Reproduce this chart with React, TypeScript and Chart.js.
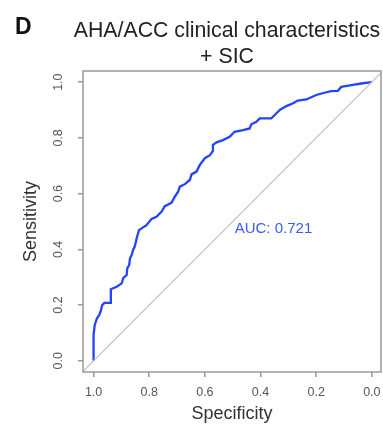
import React, { useEffect, useRef } from "react";
import { Chart, registerables } from "chart.js";

Chart.register(...registerables);

// ROC curve (specificity, sensitivity)
const specificity = [
  1.0, 1.0, 0.996, 0.988, 0.98, 0.975, 0.969, 0.961, 0.938, 0.938, 0.917, 0.899, 0.893, 0.881, 0.879, 0.872,
  0.869, 0.863, 0.858, 0.852, 0.845, 0.837, 0.822, 0.81, 0.792, 0.774, 0.756, 0.744, 0.72, 0.708, 0.696, 0.69,
  0.672, 0.654, 0.648, 0.63, 0.618, 0.6, 0.582, 0.571, 0.571, 0.558, 0.535, 0.511, 0.493, 0.463, 0.439, 0.433,
  0.415, 0.403, 0.361, 0.349, 0.331, 0.307, 0.283, 0.266, 0.235, 0.2, 0.17, 0.146, 0.122, 0.11, 0.068, 0.032, 0.0,
];
const sensitivity = [
  0.0, 0.093, 0.128, 0.152, 0.164, 0.176, 0.2, 0.208, 0.208, 0.257, 0.266, 0.278, 0.298, 0.308, 0.332, 0.344,
  0.368, 0.38, 0.398, 0.41, 0.44, 0.469, 0.479, 0.487, 0.509, 0.517, 0.535, 0.555, 0.567, 0.589, 0.607, 0.625,
  0.634, 0.649, 0.669, 0.679, 0.703, 0.727, 0.738, 0.753, 0.775, 0.784, 0.792, 0.804, 0.822, 0.828, 0.834, 0.849,
  0.858, 0.87, 0.87, 0.882, 0.9, 0.914, 0.924, 0.934, 0.938, 0.954, 0.962, 0.968, 0.969, 0.983, 0.99, 0.996, 1.0,
];
const diagonalX = [1.04, -0.04];
const diagonalY = [-0.04, 1.04];
const tickValues = [0, 0.2, 0.4, 0.6, 0.8, 1.0];
const tickLabels = ["0.0", "0.2", "0.4", "0.6", "0.8", "1.0"];
const titleLines = ["AHA/ACC clinical characteristics", "+ SIC"];
const panelLabel = "D";
const aucLabel = "AUC: 0.721";
const aucPosition = [0.5, 0.5];
const xTitle = "Specificity";
const yTitle = "Sensitivity";

const FAMILY = '"Liberation Sans", Arial, Helvetica, sans-serif';

const labelFor = (v: number) => {
  const i = tickValues.findIndex((t) => Math.abs(t - v) < 1e-9);
  return i >= 0 ? tickLabels[i] : "";
};

const annotPlugin = {
  id: "annot",
  afterDraw(chart: any) {
    const { ctx, chartArea: a, scales } = chart;
    ctx.save();
    // frame
    ctx.strokeStyle = "#9a9a9a";
    ctx.lineWidth = 1.5;
    ctx.strokeRect(a.left, a.top, a.right - a.left, a.bottom - a.top);

    // rotated y tick labels
    ctx.fillStyle = "#555";
    ctx.font = `12.5px ${FAMILY}`;
    ctx.textAlign = "center";
    ctx.textBaseline = "middle";
    tickValues.forEach((v, i) => {
      const y = scales.y.getPixelForValue(v);
      ctx.save();
      ctx.translate(59, y);
      ctx.rotate(-Math.PI / 2);
      ctx.fillText(tickLabels[i], 0, 0);
      ctx.restore();
    });

    // title
    ctx.fillStyle = "#222";
    ctx.font = `21.3px ${FAMILY}`;
    ctx.textAlign = "center";
    ctx.textBaseline = "alphabetic";
    ctx.fillText(titleLines[0], 227, 37);
    ctx.fillText(titleLines[1], 227, 63);

    // panel label
    ctx.fillStyle = "#111";
    ctx.font = `bold 23px ${FAMILY}`;
    ctx.textAlign = "left";
    ctx.fillText(panelLabel, 15, 33.5);

    // AUC
    ctx.fillStyle = "#3a5aff";
    ctx.font = `15px ${FAMILY}`;
    ctx.textAlign = "left";
    ctx.textBaseline = "middle";
    ctx.fillText(
      aucLabel,
      scales.x.getPixelForValue(aucPosition[0]) + 2,
      scales.y.getPixelForValue(aucPosition[1]) + 7.5
    );
    ctx.restore();
  },
};

export default function App() {
  const ref = useRef<HTMLCanvasElement | null>(null);

  useEffect(() => {
    document.body.style.margin = "0";
    if (!ref.current) return;
    const chart = new Chart(ref.current, {
      type: "scatter",
      data: {
        datasets: [
          {
            data: diagonalX.map((x, i) => ({ x, y: diagonalY[i] })),
            showLine: true,
            borderColor: "#c4c4c4",
            borderWidth: 1.2,
            pointRadius: 0,
          },
          {
            data: specificity.map((x, i) => ({ x, y: sensitivity[i] })),
            showLine: true,
            borderColor: "#2244ff",
            borderWidth: 2.3,
            pointRadius: 0,
            tension: 0,
          },
        ],
      },
      options: {
        responsive: false,
        animation: false,
        devicePixelRatio: 1,
        layout: { padding: { top: 71, right: 2, bottom: 0, left: 0 } },
        plugins: { legend: { display: false }, tooltip: { enabled: false }, title: { display: false } },
        scales: {
          x: {
            type: "linear",
            reverse: true,
            min: -0.033,
            max: 1.038,
            afterBuildTicks: (s: any) => {
              s.ticks = tickValues.map((v) => ({ value: v }));
            },
            afterFit: (s: any) => {
              s.height = 53;
            },
            grid: { drawOnChartArea: false, drawTicks: true, tickLength: 5, color: "#9a9a9a", lineWidth: 1.5 },
            border: { display: false },
            ticks: {
              padding: 8,
              color: "#555",
              font: { size: 12.5, family: FAMILY },
              maxRotation: 0,
              autoSkip: false,
              callback: (v: any) => labelFor(Number(v)),
            },
            title: {
              display: true,
              text: xTitle,
              color: "#333",
              font: { size: 18, family: FAMILY, lineHeight: 1.2 },
              padding: { top: 0, bottom: 0 },
            },
          },
          y: {
            type: "linear",
            min: -0.04,
            max: 1.04,
            afterBuildTicks: (s: any) => {
              s.ticks = tickValues.map((v) => ({ value: v }));
            },
            afterFit: (s: any) => {
              s.width = 83;
            },
            grid: { drawOnChartArea: false, drawTicks: true, tickLength: 5, color: "#9a9a9a", lineWidth: 1.5 },
            border: { display: false },
            ticks: { display: false },
            title: {
              display: true,
              text: yTitle,
              color: "#333",
              font: { size: 18, family: FAMILY, lineHeight: 1.2 },
              padding: { top: 20, bottom: 0 },
            },
          },
        },
      },
      plugins: [annotPlugin],
    });
    return () => chart.destroy();
  }, []);

  return (
    <div style={{ width: 383, height: 425, background: "#fff" }}>
      <canvas ref={ref} width={383} height={425} style={{ display: "block" }} />
    </div>
  );
}
